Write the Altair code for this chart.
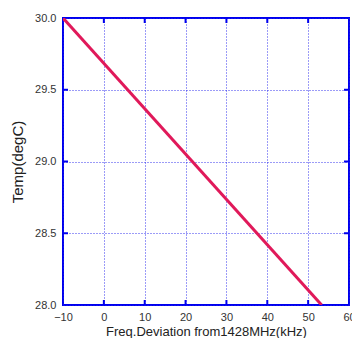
import altair as alt
import pandas as pd

# data
freq_dev = [-10.0, 53.3]
temp = [30.0, 28.0]
x_ticks = [-10, 0, 10, 20, 30, 40, 50, 60]
y_ticks = [28.0, 28.5, 29.0, 29.5, 30.0]
x_inner = [0, 10, 20, 30, 40, 50]
y_inner = [28.5, 29.0, 29.5]

W, H = 286, 287
BLUE = "#0000ee"
FONT = "Liberation Sans"

line_df = pd.DataFrame({"f": freq_dev, "t": temp})
xt_df = pd.DataFrame({"f": x_inner})
yt_df = pd.DataFrame({"t": y_inner})

xs = alt.Scale(domain=[-10, 60], nice=False, zero=False)
ys = alt.Scale(domain=[28, 30], nice=False, zero=False)

xaxis = alt.Axis(values=x_ticks, title="Freq.Deviation from1428MHz(kHz)", grid=True,
                 gridColor="#2222ee", gridDash=[1, 2], gridWidth=1, gridOpacity=0.9,
                 domain=False, ticks=False, labelPadding=6, labelFont=FONT, labelFontSize=11,
                 labelColor="#333333", titleFont=FONT, titleFontSize=13, titleFontWeight="normal",
                 titleColor="#222222", titlePadding=3, labelFlush=False)
yaxis = alt.Axis(values=y_ticks, format=".1f", title="Temp(degC)", grid=True,
                 gridColor="#2222ee", gridDash=[1, 2], gridWidth=1, gridOpacity=0.9,
                 domain=False, ticks=False, labelPadding=7, labelFont=FONT, labelFontSize=11,
                 labelColor="#333333", titleFont=FONT, titleFontSize=15, titleFontWeight="normal",
                 titleColor="#222222", titlePadding=9, labelFlush=False)

line = alt.Chart(line_df).mark_line(color="#e0195a", strokeWidth=3, clip=True).encode(
    x=alt.X("f:Q", scale=xs, axis=xaxis),
    y=alt.Y("t:Q", scale=ys, axis=yaxis),
)

tb = alt.Chart(xt_df).mark_rule(color=BLUE, strokeWidth=2).encode(
    x=alt.X("f:Q", scale=xs), y=alt.value(H), y2=alt.value(H - 5))
tt = alt.Chart(xt_df).mark_rule(color=BLUE, strokeWidth=2).encode(
    x=alt.X("f:Q", scale=xs), y=alt.value(0), y2=alt.value(5))
tl = alt.Chart(yt_df).mark_rule(color=BLUE, strokeWidth=2).encode(
    y=alt.Y("t:Q", scale=ys), x=alt.value(0), x2=alt.value(5))
tr = alt.Chart(yt_df).mark_rule(color=BLUE, strokeWidth=2).encode(
    y=alt.Y("t:Q", scale=ys), x=alt.value(W), x2=alt.value(W - 5))

chart = alt.layer(tb, tt, tl, tr, line).properties(
    width=W, height=H,
    autosize=alt.AutoSizeParams(type="none"),
    padding={"left": 63, "top": 18, "right": 3, "bottom": 33},
    background="white",
).configure_view(stroke=BLUE, strokeWidth=2)

chart.save("out.html", embed_options={"renderer": "svg", "actions": False})
